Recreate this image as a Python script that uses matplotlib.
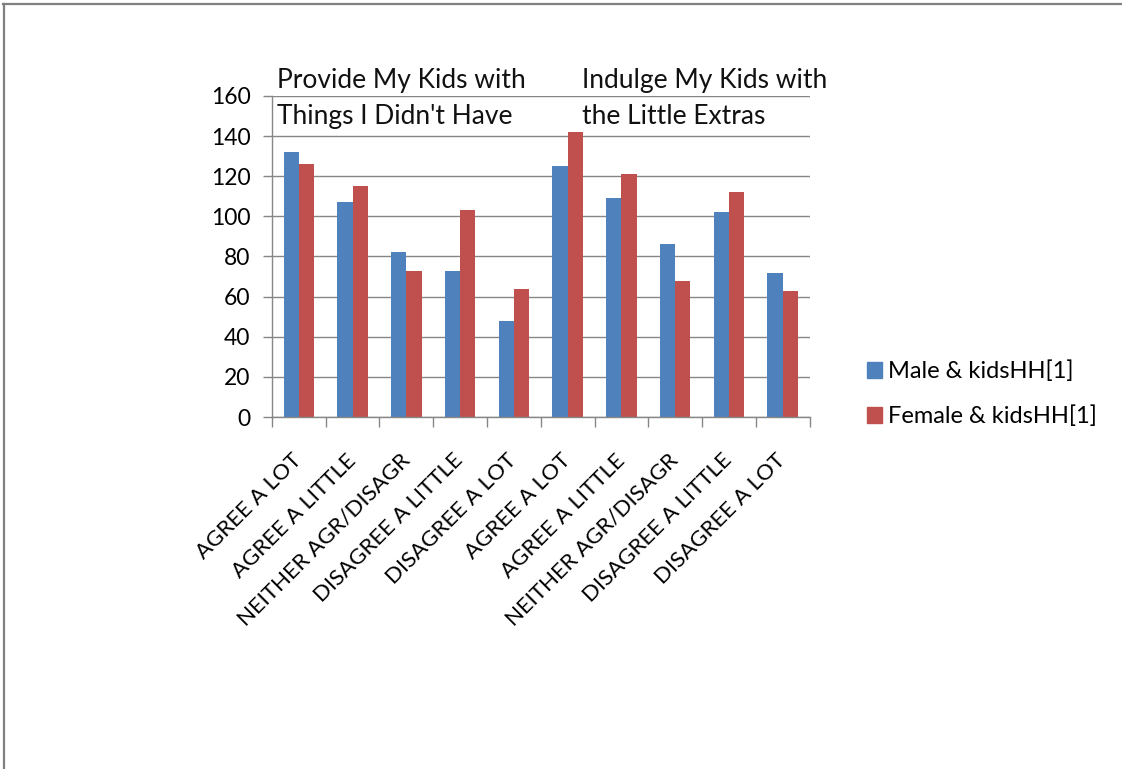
import matplotlib
matplotlib.use('Agg')
import matplotlib.pyplot as plt
import numpy as np
from matplotlib.lines import Line2D

plt.rcParams['font.family'] = ['Lato', 'DejaVu Sans']

CATEGORIES = ['AGREE A LOT', 'AGREE A LITTLE', 'NEITHER AGR/DISAGR',
              'DISAGREE A LITTLE', 'DISAGREE A LOT',
              'AGREE A LOT', 'AGREE A LITTLE', 'NEITHER AGR/DISAGR',
              'DISAGREE A LITTLE', 'DISAGREE A LOT']
MALE = [132, 107, 82, 73, 48, 125, 109, 86, 102, 72]
FEMALE = [126, 115, 73, 103, 64, 142, 121, 68, 112, 63]
SERIES_LABELS = ['Male & kidsHH[1]', 'Female & kidsHH[1]']
GROUP_TITLES = [["Provide My Kids with", "Things I Didn't Have"],
                ['Indulge My Kids with', 'the Little Extras']]

BLUE = '#4F81BD'
RED = '#C0504D'
GREY = '#868686'

fig = plt.figure(figsize=(11.22, 7.69), dpi=100)
ax = fig.add_axes([0.2424, 0.4577, 0.7215 - 0.2424, 0.8752 - 0.4577])

x = np.arange(len(CATEGORIES))
w = 0.285
ax.bar(x - w / 2, MALE, w, color=BLUE, label=SERIES_LABELS[0])
ax.bar(x + w / 2, FEMALE, w, color=RED, label=SERIES_LABELS[1])

ax.set_xlim(-0.5, len(CATEGORIES) - 0.5)
ax.set_ylim(0, 160)
ax.set_yticks(range(0, 161, 20))
ax.yaxis.grid(True, color=GREY, linewidth=1.0)
ax.set_axisbelow(True)

ax.set_xticks(x)
ax.set_xticklabels(CATEGORIES, rotation=45, ha='right', va='center',
                   rotation_mode='anchor', fontsize=16)
ax.set_xticks(np.arange(-0.5, len(CATEGORIES)), minor=True)
ax.tick_params(axis='x', which='major', length=0, pad=29)
ax.tick_params(axis='x', which='minor', length=7, color=GREY, width=1)
ax.tick_params(axis='y', length=6.5, color=GREY, width=1, labelsize=16.5,
               pad=9)

for side in ['top', 'right']:
    ax.spines[side].set_visible(False)
for side in ['left', 'bottom']:
    ax.spines[side].set_color(GREY)
    ax.spines[side].set_linewidth(1)

# group headings sit across the top of the plot area
for gx, lines in zip([-0.4, 5.27], GROUP_TITLES):
    for gy, line in zip([164, 146], lines):
        ax.text(gx, gy, line, fontsize=19, va='baseline', ha='left',
                color='#111111')

handles = [plt.Rectangle((0, 0), 1, 1, color=BLUE),
           plt.Rectangle((0, 0), 1, 1, color=RED)]
fig.legend(handles, SERIES_LABELS, loc='center left',
           bbox_to_anchor=(0.7727, 0.488), frameon=False, fontsize=17,
           handlelength=0.65, handleheight=0.65, handletextpad=0.25,
           labelspacing=1.0, borderpad=0, borderaxespad=0)

# outer chart frame (top and left edges)
fig.add_artist(Line2D([0.003, 1.0], [0.995, 0.995], color='#808080',
                      linewidth=1.6, transform=fig.transFigure))
fig.add_artist(Line2D([0.004, 0.004], [0.0, 0.995], color='#808080',
                      linewidth=1.6, transform=fig.transFigure))

fig.savefig('out.png', dpi=100, facecolor='white')
